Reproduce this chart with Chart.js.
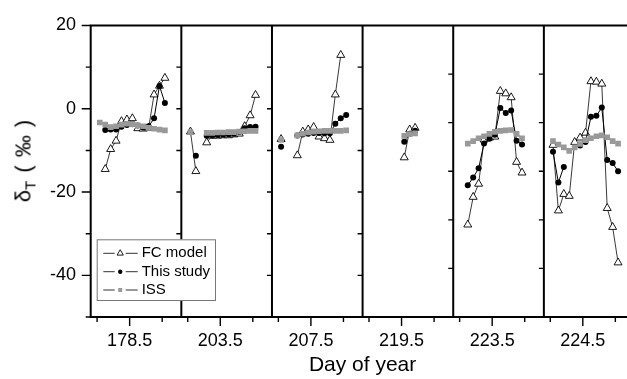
<!DOCTYPE html>
<html>
<head>
<meta charset="utf-8">
<script src="https://cdn.jsdelivr.net/npm/chart.js@4/dist/chart.umd.min.js"></script>
<style>
  html, body { margin: 0; padding: 0; background: #fff; overflow: hidden; width: 627px; height: 379px; }
  #wrap { position: relative; width: 640px; height: 379px; }
  #c { position: absolute; left: 0; top: 0; }
  #ytitle {
    position: absolute; left: 25px; top: 161px;
    transform: translate(-50%, -50%) rotate(-90deg);
    font: 22px "Liberation Sans", Arial, Helvetica, sans-serif;
    word-spacing: 2px;
    white-space: nowrap; color: #000; line-height: 1;
  }
  #ytitle sub { font-size: 15px; vertical-align: -5px; }
</style>
</head>
<body>
<div id="wrap">
  <canvas id="c" width="640" height="379"></canvas>
  <div id="ytitle">δ<sub>T</sub> ( ‰ )</div>
</div>
<script>
// ---------- DATA ----------
const dayLabels = ['178.5', '203.5', '207.5', '219.5', '223.5', '224.5'];
const hours = [6.5, 7.5, 8.5, 9.5, 10.5, 11.5, 12.5, 13.5, 14.5, 15.5, 16.5, 17.5, 18.5];
// which y scale each panel uses (last two panels have their own scale)
const panelAxis = ['y', 'y', 'y', 'y', 'y2', 'y2'];

const fcModel = [
  [null, -14.5, -9.7, -7.7, -3.0, -2.6, -2.3, -4.7, -4.8, -4.6, 3.4, 5.5, 7.4],
  [-5.5, -15.0, null, -8.1, -6.5, -6.5, -6.4, -6.4, -6.2, -6.0, -4.2, -1.6, 3.3],
  [-7.3, null, null, -11.2, -5.5, -5.0, -4.4, -6.7, -7.1, -7.5, 3.4, 12.9, null],
  [null, null, null, null, null, null, -11.7, -5.0, -4.6, null, null, null, null],
  [null, -21.0, -15.3, -12.6, -3.5, -3.1, -2.9, 6.5, 6.0, 5.2, -8.1, -10.3, null],
  [-4.6, -18.1, -14.7, -15.1, -4.0, -3.1, -2.1, 8.5, 8.4, 8.0, -17.6, -21.5, -28.8]
];
const thisStudy = [
  [null, -5.1, -5.0, -5.0, -4.3, -3.9, -3.7, -4.0, -4.5, -4.2, -2.3, 5.5, 1.4],
  [null, -11.3, null, -6.5, -6.4, -6.3, -6.2, -6.1, -6.0, -5.6, -4.7, -4.4, -4.3],
  [-9.1, null, null, -6.4, -6.2, -6.0, -5.8, -5.8, -5.9, -5.9, -3.6, -2.3, -1.5],
  [null, null, null, null, null, null, -7.9, -6.0, -5.3, null, null, null, null],
  [null, -12.9, -11.3, -9.4, -4.3, -3.3, -2.5, 3.0, 2.0, 2.5, -3.7, -4.5, null],
  [-6.0, -12.3, -9.1, null, null, -4.7, -4.0, 1.2, 1.4, 3.1, -7.7, -8.3, -10.0]
];
const iss = [
  [-3.3, -3.8, -4.4, -4.2, -3.8, -3.6, -3.7, -4.0, -4.2, -4.6, -4.8, -5.0, -5.2],
  [-5.6, null, null, -5.8, -5.8, -5.7, -5.7, -5.6, -5.6, -5.5, -5.4, -5.3, -5.3],
  [-7.5, null, null, -6.4, -6.0, -5.7, -5.5, -5.4, -5.3, -5.3, -5.3, -5.3, -5.2],
  [null, null, null, null, null, null, -6.5, -6.1, -5.9, null, null, null, null],
  [null, -4.3, -3.8, -3.2, -2.8, -2.3, -1.9, -1.7, -1.6, -1.5, -2.3, -3.2, null],
  [-3.8, -4.5, -5.1, -5.8, -5.1, -4.4, -3.6, -3.2, -2.8, -2.6, -3.0, -3.8, -4.3]
];

const yMajorTicks = [20, 0, -20, -40];
const yMinorTicks = [10, -10, -30, -50];
const y2Ticks = [10, 0, -10, -20, -30];
const hourTicks = [6, 12, 18];
const legendLabels = ['FC model', 'This study', 'ISS'];

// ---------- LAYOUT ----------
const FONT = '"Liberation Sans", Arial, Helvetica, sans-serif';
const HOUR0 = 4.82;      // hour at left edge of each panel
const SPAN = 16.71;      // hours covered by a panel
const xPos = (p, h) => p * SPAN + (h - HOUR0);

function buildPoints(series, axis) {
  const pts = [];
  series.forEach((vals, p) => {
    if (panelAxis[p] !== axis) return;
    hours.forEach((h, i) => pts.push({ x: xPos(p, h), y: vals[i] }));
    pts.push({ x: (p + 1) * SPAN - 0.05, y: null });
  });
  return pts;
}

const styles = {
  fc: { borderColor: '#222', borderWidth: 0.9, pointStyle: 'triangle', pointRadius: 4.6,
        pointBackgroundColor: '#fff', pointBorderColor: '#000', pointBorderWidth: 0.9, order: 3 },
  ts: { borderColor: '#000', borderWidth: 1, pointStyle: 'circle', pointRadius: 3,
        pointBackgroundColor: '#000', pointBorderColor: '#000', pointBorderWidth: 0, order: 2 },
  iss: { borderColor: '#999', borderWidth: 1.6, pointStyle: 'rect', pointRadius: 4,
        pointBackgroundColor: '#999', pointBorderColor: '#999', pointBorderWidth: 0, order: 1 }
};

const datasets = [];
['y', 'y2'].forEach(axis => {
  datasets.push({ label: legendLabels[0], data: buildPoints(fcModel, axis), yAxisID: axis, ...styles.fc });
  datasets.push({ label: legendLabels[1], data: buildPoints(thisStudy, axis), yAxisID: axis, ...styles.ts });
  datasets.push({ label: legendLabels[2], data: buildPoints(iss, axis), yAxisID: axis, ...styles.iss });
});
datasets.forEach(d => { d.showLine = true; d.spanGaps = false; d.tension = 0; d.fill = false; });

const xTickValues = [];
dayLabels.forEach((_, p) => hourTicks.forEach(h => xTickValues.push(xPos(p, h))));

// ---------- PLUGIN: frames, tick marks, legend ----------
const framePlugin = {
  id: 'frame',
  afterDraw(chart) {
    const { ctx, chartArea: a, scales } = chart;
    const x = scales.x, y = scales.y, y2 = scales.y2;
    ctx.save();
    ctx.strokeStyle = '#000';
    // tick marks
    ctx.lineWidth = 1.4;
    ctx.beginPath();
    yMajorTicks.forEach(v => { const py = y.getPixelForValue(v); ctx.moveTo(a.left - 9, py); ctx.lineTo(a.left, py); });
    yMinorTicks.forEach(v => { const py = y.getPixelForValue(v); ctx.moveTo(a.left - 5, py); ctx.lineTo(a.left, py); });
    for (let p = 1; p < dayLabels.length; p++) {
      const px = x.getPixelForValue(p * SPAN);
      const sc = panelAxis[p] === 'y2' ? y2 : y;
      const vals = panelAxis[p] === 'y2' ? y2Ticks : [10, 0, -10, -20, -30, -40];
      vals.forEach(v => { const py = sc.getPixelForValue(v); ctx.moveTo(px - 5, py); ctx.lineTo(px, py); });
    }
    dayLabels.forEach((_, p) => hourTicks.forEach(h => {
      const px = x.getPixelForValue(xPos(p, h));
      const len = h === 12 ? 9 : 5;
      ctx.moveTo(px, a.bottom); ctx.lineTo(px, a.bottom + len);
    }));
    ctx.stroke();
    // frame lines
    ctx.lineWidth = 2;
    ctx.beginPath();
    ctx.moveTo(a.left, a.top); ctx.lineTo(a.right + 5, a.top);
    ctx.moveTo(a.left, a.bottom); ctx.lineTo(a.right + 5, a.bottom);
    for (let p = 0; p < dayLabels.length; p++) {
      const px = x.getPixelForValue(p * SPAN);
      ctx.moveTo(px, a.top - 1); ctx.lineTo(px, a.bottom + 1);
    }
    ctx.stroke();

    // legend box
    const L = { x: 96.7, y: 239.3, w: 118.3, h: 60.7 };
    ctx.fillStyle = '#fff';
    ctx.fillRect(L.x, L.y, L.w, L.h);
    ctx.strokeStyle = '#777';
    ctx.lineWidth = 1;
    ctx.strokeRect(L.x + 0.5, L.y + 0.5, L.w, L.h);
    const rows = [14, 32.4, 50.7];
    const st = [styles.fc, styles.ts, styles.iss];
    const markR = [3.6, 2.2, 2.8];
    rows.forEach((dy, i) => {
      const cy = L.y + dy, cx = L.x + 23.5;
      ctx.strokeStyle = '#333';
      ctx.lineWidth = 1;
      ctx.beginPath();
      ctx.moveTo(L.x + 6.6, cy); ctx.lineTo(cx - 5.5, cy);
      ctx.moveTo(cx + 5.5, cy); ctx.lineTo(L.x + 41, cy);
      ctx.stroke();
      ctx.fillStyle = st[i].pointBackgroundColor;
      ctx.strokeStyle = st[i].pointBorderColor;
      ctx.lineWidth = st[i].pointBorderWidth || 0.001;
      Chart.helpers.drawPoint(ctx, { pointStyle: st[i].pointStyle, radius: markR[i], rotation: 0,
        borderWidth: st[i].pointBorderWidth }, cx, cy);
    });
    ctx.font = '15px ' + FONT;
    ctx.fillStyle = '#000';
    ctx.textBaseline = 'middle';
    ctx.textAlign = 'left';
    rows.forEach((dy, i) => ctx.fillText(legendLabels[i], L.x + 45, L.y + dy));
    ctx.restore();
  }
};

new Chart(document.getElementById('c'), {
  type: 'line',
  data: { datasets },
  options: {
    responsive: false,
    animation: false,
    events: [],
    layout: { padding: { left: 0, right: 5, top: 16, bottom: 0 } },
    plugins: { legend: { display: false }, tooltip: { enabled: false } },
    scales: {
      x: {
        type: 'linear', min: 0, max: dayLabels.length * SPAN,
        grid: { display: false, drawTicks: false }, border: { display: false },
        afterBuildTicks: s => { s.ticks = xTickValues.map(v => ({ value: v })); },
        afterFit: s => { s.height = 62; },
        ticks: {
          autoSkip: false, maxRotation: 0, minRotation: 0, padding: 13,
          color: '#000', font: { size: 18, family: FONT },
          callback: (v, i) => (i % 3 === 1 ? dayLabels[Math.floor(i / 3)] : '')
        },
        title: { display: true, text: 'Day of year', color: '#000',
                 font: { size: 21, family: FONT }, padding: { top: 0, bottom: 1 } }
      },
      y: {
        type: 'linear', min: -50, max: 20,
        grid: { display: false, drawTicks: false }, border: { display: false },
        afterBuildTicks: s => { s.ticks = yMajorTicks.map(v => ({ value: v })); },
        afterFit: s => { s.width = 90.7; },
        ticks: { padding: 14.7, color: '#000', font: { size: 18, family: FONT },
                 callback: v => String(v) }
      },
      y2: { type: 'linear', min: -40, max: 20, display: false }
    }
  },
  plugins: [framePlugin]
});
</script>
</body>
</html>
